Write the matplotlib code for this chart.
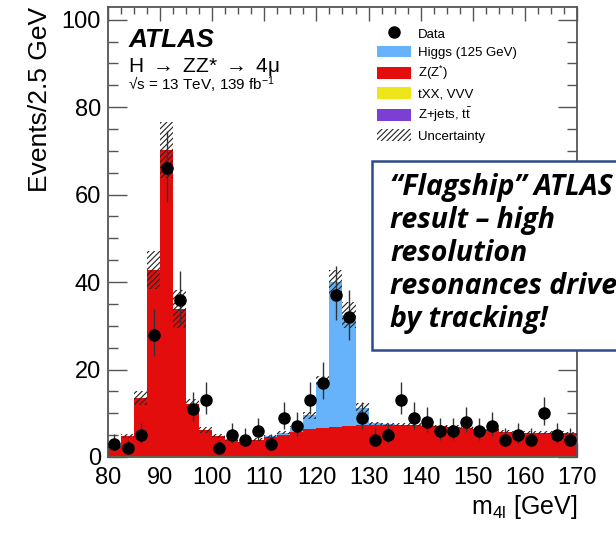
import numpy as np
import matplotlib
matplotlib.use("Agg")
import matplotlib.pyplot as plt
from matplotlib.lines import Line2D
from matplotlib.patches import Patch, Rectangle

plt.rcParams['font.family'] = ['Liberation Sans', 'DejaVu Sans']
plt.rcParams['mathtext.fontset'] = 'custom'
plt.rcParams['mathtext.rm'] = 'Liberation Sans'
plt.rcParams['mathtext.it'] = 'Liberation Sans:italic'
plt.rcParams['hatch.linewidth'] = 0.8

# ---- data (m4l bins of 2.5 GeV from 80 to 170) ----
bin_edges = np.arange(80.0, 170.01, 2.5)

zjets_tt = [0.10, 0.10, 0.10, 0.10, 0.10, 0.10, 0.10, 0.10, 0.10, 0.10, 0.10, 0.10,
            0.10, 0.10, 0.10, 0.10, 0.10, 0.10, 0.10, 0.10, 0.10, 0.10, 0.10, 0.10,
            0.10, 0.10, 0.10, 0.10, 0.10, 0.10, 0.10, 0.10, 0.10, 0.10, 0.10, 0.10]
txx_vvv = [0.05, 0.05, 0.05, 0.05, 0.05, 0.05, 0.05, 0.05, 0.05, 0.05, 0.05, 0.05,
           0.05, 0.05, 0.05, 0.05, 0.06, 0.06, 0.07, 0.08, 0.08, 0.09, 0.10, 0.11,
           0.12, 0.13, 0.14, 0.15, 0.16, 0.17, 0.18, 0.19, 0.20, 0.20, 0.20, 0.20]
zzstar = [2.05, 4.65, 13.35, 42.55, 70.05, 33.65, 12.05, 6.05, 4.65, 3.75, 3.35, 3.85,
          4.35, 4.85, 5.65, 6.15, 6.44, 6.74, 6.93, 7.12, 7.22, 7.21, 7.10, 7.09,
          6.98, 6.77, 6.66, 6.45, 6.14, 5.93, 5.52, 5.31, 5.20, 5.20, 5.30, 5.10]
higgs = [0.0, 0.0, 0.0, 0.0, 0.0, 0.0, 0.0, 0.0, 0.0, 0.0, 0.0, 0.0,
         0.2, 0.6, 0.9, 3.2, 10.6, 33.1, 25.4, 3.8, 0.3, 0.1, 0.1, 0.1,
         0.1, 0.0, 0.0, 0.0, 0.0, 0.0, 0.0, 0.0, 0.0, 0.0, 0.0, 0.0]
uncertainty = [0.3, 0.5, 1.5, 4.3, 6.5, 4.3, 1.1, 0.6, 0.4, 0.35, 0.35, 0.35,
               0.35, 0.4, 0.4, 0.8, 1.3, 2.7, 3.0, 1.3, 0.4, 0.35, 0.35, 0.35,
               0.35, 0.35, 0.35, 0.35, 0.35, 0.35, 0.35, 0.35, 0.35, 0.35, 0.35, 0.35]
data = [3, 2, 5, 28, 66, 36, 11, 13, 2, 5, 4, 6,
        3, 9, 7, 13, 17, 37, 32, 9, 4, 5, 13, 9,
        8, 6, 6, 8, 6, 7, 4, 5, 4, 10, 5, 4]

xticks = [80, 90, 100, 110, 120, 130, 140, 150, 160, 170]
yticks = [0, 20, 40, 60, 80, 100]

c_purple = '#7b3fd3'
c_yellow = '#eee619'
c_red = '#e40d0d'
c_blue = '#66b3fb'

fig = plt.figure(figsize=(6.16, 5.33), dpi=100)
ax = fig.add_axes([0.1753, 0.1426, 0.9367 - 0.1753, 0.9869 - 0.1426])

edges = bin_edges
centers = 0.5 * (edges[:-1] + edges[1:])
b0 = np.zeros(len(centers))
layers = [(zjets_tt, c_purple), (txx_vvv, c_yellow), (zzstar, c_red), (higgs, c_blue)]
bottom = b0.copy()
for vals, col in layers:
    top = bottom + np.asarray(vals)
    ax.stairs(top, edges, baseline=bottom, fill=True, color=col, lw=0, zorder=2)
    bottom = top
total = bottom
unc = np.asarray(uncertainty)
ax.stairs(total + unc, edges, baseline=total - unc, fill=True, facecolor='none',
          edgecolor='#222222', hatch='//////', lw=0, zorder=3)

d = np.asarray(data, dtype=float)
err_up = np.sqrt(d + 0.25) + 0.5
err_dn = np.sqrt(d + 0.25) - 0.5
ax.errorbar(centers, d, yerr=[err_dn, err_up], fmt='o', color='black', ms=8,
            ecolor='#333333', elinewidth=1.0, capsize=0, zorder=4)

ax.set_xlim(80, 170)
ax.set_ylim(0, 102.9)
ax.set_xticks(xticks)
ax.set_yticks(yticks)
ax.set_xticks(np.arange(80, 170.01, 2.5), minor=True)
ax.set_yticks(np.arange(0, 102.9, 5), minor=True)
ax.tick_params(which='both', direction='in', top=True, right=True, color='#555555', width=1.0)
ax.tick_params(axis='x', which='major', length=10, labelsize=17, pad=7)
ax.tick_params(axis='x', which='minor', length=5)
ax.tick_params(axis='y', which='major', length=14, labelsize=17, pad=5)
ax.tick_params(axis='y', which='minor', length=7)
for s in ax.spines.values():
    s.set_color('#555555')
    s.set_linewidth(1.3)

ax.set_ylabel('Events/2.5 GeV', fontsize=19, loc='top', labelpad=7)
ax.set_xlabel(r'm$_{\mathregular{4l}}$ [GeV]', fontsize=18, loc='right', labelpad=3)

ax.text(0.043, 0.911, 'ATLAS', transform=ax.transAxes, fontsize=19, fontweight='bold',
        fontstyle='italic', va='baseline')
ax.text(0.043, 0.856, r'H $\rightarrow$ ZZ* $\rightarrow$ 4μ', transform=ax.transAxes,
        fontsize=15, va='baseline')
ax.text(0.043, 0.815, r'√s = 13 TeV, 139 fb$^{\mathregular{-1}}$', transform=ax.transAxes,
        fontsize=11, va='baseline')

handles = [
    Line2D([], [], marker='o', color='black', ls='none', ms=8),
    Patch(facecolor=c_blue, lw=0),
    Patch(facecolor=c_red, lw=0),
    Patch(facecolor=c_yellow, lw=0),
    Patch(facecolor=c_purple, lw=0),
    Patch(facecolor='none', edgecolor='#222222', hatch='//////', lw=0),
]
labels = ['Data', 'Higgs (125 GeV)', r'Z(Z$^{*}$)', 'tXX, VVV', r'Z+jets, t$\bar{\mathregular{t}}$', 'Uncertainty']
ax.legend(handles, labels, loc='upper left', bbox_to_anchor=(0.5736, 0.955), frameon=False,
          fontsize=9.5, handlelength=2.55, handleheight=1.0, labelspacing=0.38,
          handletextpad=0.58, borderpad=0, borderaxespad=0)

# annotation box (slide overlay)
fig.patches.append(Rectangle((372 / 616, 1 - 350 / 533), 0.5, (350 - 161) / 533,
                             transform=fig.transFigure, facecolor='white',
                             edgecolor='#2c4a8c', lw=1.8, zorder=10))
fig.text(390 / 616, 1 - 173 / 533,
         '“Flagship” ATLAS\nresult – high\nresolution\nresonances driven\nby tracking!',
         fontsize=20.5, fontweight='bold', fontstyle='italic',
         family=['Open Sans', 'DejaVu Sans'], va='top', ha='left', linespacing=1.18,
         zorder=11)

fig.savefig('out.png', dpi=100)
